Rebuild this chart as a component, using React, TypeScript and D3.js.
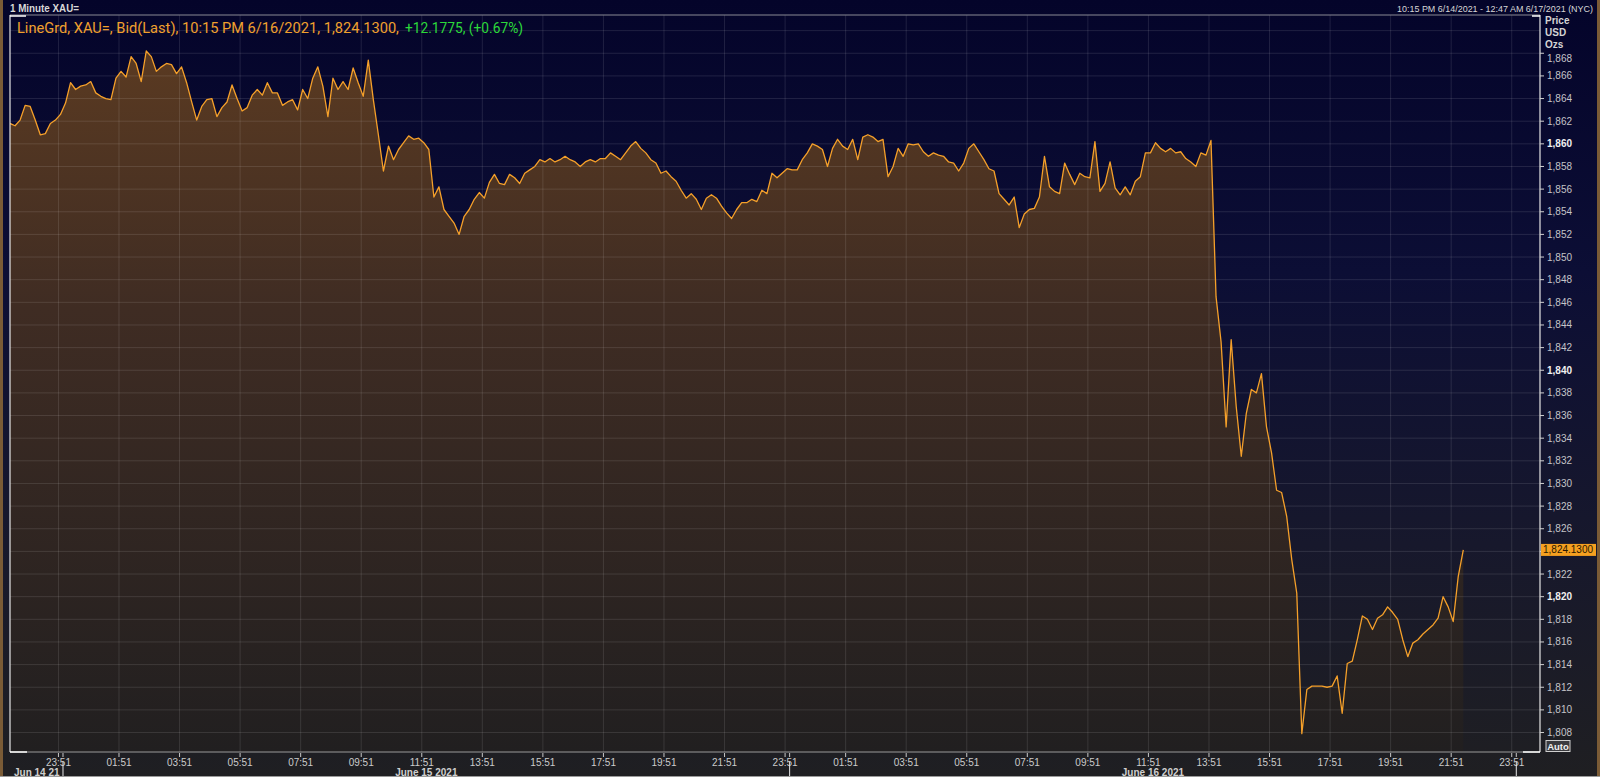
import React from "react";
import * as d3 from "d3";

const W = 1600;
const H = 777;

// Time window shown (NYC local)
const START = new Date(2021, 5, 14, 22, 15);
const END = new Date(2021, 5, 17, 0, 47);
const STEP_MINUTES = 10;

// XAU= bid, sampled every 10 minutes from 22:15 Jun 14 2021 to 22:15 Jun 16 2021
const prices: number[] = [
  1861.8, 1861.6, 1862.1, 1863.4, 1863.3, 1862.1, 1860.8, 1860.9, 1861.8, 1862.1,
  1862.6, 1863.6, 1865.4, 1864.8, 1865.1, 1865.2, 1865.5, 1864.5, 1864.2, 1864.0,
  1863.9, 1865.8, 1866.4, 1865.9, 1867.7, 1867.1, 1865.5, 1868.2, 1867.7, 1866.4,
  1866.8, 1867.1, 1867.0, 1866.2, 1866.8, 1865.4, 1863.7, 1862.1, 1863.3, 1863.9,
  1864.0, 1862.4, 1863.2, 1863.7, 1865.2, 1864.0, 1862.9, 1863.2, 1864.3, 1864.8,
  1864.3, 1865.4, 1864.5, 1864.5, 1863.4, 1863.7, 1863.9, 1863.0, 1864.8, 1864.0,
  1865.8, 1866.8, 1865.1, 1862.4, 1865.8, 1864.8, 1865.5, 1864.8, 1866.7, 1865.4,
  1864.2, 1867.4, 1863.9, 1860.8, 1857.6, 1859.8, 1858.6, 1859.5, 1860.1, 1860.7,
  1860.4, 1860.5, 1860.1, 1859.5, 1855.3, 1856.2, 1854.2, 1853.6, 1853.0, 1852.0,
  1853.6, 1854.2, 1855.1, 1855.7, 1855.2, 1856.6,
  1857.3, 1856.5, 1856.4, 1857.3, 1857.0, 1856.5, 1857.4, 1857.7, 1858.0, 1858.6,
  1858.4, 1858.7, 1858.4, 1858.6, 1858.9, 1858.6, 1858.4, 1858.0, 1858.4, 1858.6,
  1858.4, 1858.7, 1858.7, 1859.2, 1858.9, 1858.6, 1859.2, 1859.8, 1860.2, 1859.6,
  1859.2, 1858.6, 1858.3, 1857.4, 1857.6, 1857.1, 1856.7, 1855.9, 1855.2, 1855.6,
  1855.1, 1854.2, 1855.2, 1855.5, 1855.2, 1854.5, 1853.9, 1853.4, 1854.2, 1854.8,
  1854.8, 1855.1, 1854.9, 1855.9, 1855.6, 1857.4, 1857.0, 1857.4, 1857.8, 1857.7,
  1857.7, 1858.6, 1859.2, 1860.0, 1859.8, 1859.5, 1858.0, 1859.6, 1860.4, 1859.8,
  1859.5, 1860.4, 1858.6, 1860.6, 1860.8, 1860.6, 1860.2, 1860.4, 1857.1, 1858.0,
  1859.6, 1858.9, 1860.0, 1859.9, 1860.0, 1859.3, 1858.9, 1859.2, 1859.0, 1858.9,
  1858.4, 1858.3, 1857.6, 1858.3, 1859.6, 1860.0, 1859.3, 1858.6, 1857.8, 1857.6, 1855.6,
  1855.1, 1854.6, 1855.3, 1852.6, 1853.8, 1854.2, 1854.3, 1855.3, 1858.9, 1856.2,
  1855.8, 1855.6, 1858.3, 1857.3, 1856.4, 1857.4, 1857.1, 1857.0, 1860.2, 1855.8,
  1856.5, 1858.4, 1856.1, 1855.5, 1856.2, 1855.5, 1856.7, 1857.1, 1859.2, 1859.2,
  1860.1, 1859.6, 1859.3, 1859.6, 1859.2, 1859.3, 1858.7, 1858.4, 1858.0, 1859.2,
  1859.0, 1860.3,
  1846.5, 1842.5, 1835.0, 1842.7, 1836.8, 1832.4, 1836.2, 1838.3, 1838.0, 1839.7,
  1835.0, 1832.7, 1829.4, 1829.2, 1827.1, 1823.3, 1820.3, 1807.9, 1811.8, 1812.1,
  1812.1, 1812.1, 1812.0, 1812.1, 1813.0, 1809.7, 1814.1, 1814.3, 1816.2, 1818.3,
  1818.0, 1817.1, 1818.1, 1818.4, 1819.1, 1818.6, 1818.0, 1816.2, 1814.7, 1815.9,
  1816.2, 1816.7, 1817.1, 1817.5, 1818.1, 1820.0, 1819.1, 1817.8, 1821.8, 1824.13,
];

const LAST_PRICE_LABEL = "1,824.1300";
const headerLeft = "1 Minute XAU=";
const headerRange = "10:15 PM 6/14/2021 - 12:47 AM 6/17/2021 (NYC)";
const titleMain = "LineGrd, XAU=, Bid(Last), 10:15 PM 6/16/2021, 1,824.1300,";
const titleChange = "+12.1775, (+0.67%)";
const axisUnits = ["Price", "USD", "Ozs"];

const xTickFirst = new Date(2021, 5, 14, 23, 51);
const xTickLabels = [
  "23:51", "01:51", "03:51", "05:51", "07:51", "09:51", "11:51", "13:51", "15:51",
  "17:51", "19:51", "21:51", "23:51", "01:51", "03:51", "05:51", "07:51", "09:51",
  "11:51", "13:51", "15:51", "17:51", "19:51", "21:51", "23:51",
];
const dayLabels = ["Jun 14 21", "June 15 2021", "June 16 2021"];
const dayLabelDates = [START, new Date(2021, 5, 15, 12, 0), new Date(2021, 5, 16, 12, 0)];
const dayBoundaries = [new Date(2021, 5, 15), new Date(2021, 5, 16), new Date(2021, 5, 17)];

const yGridValues = d3.range(1808, 1871, 2);
const yTickValues = d3.range(1808, 1869, 2);

const PLOT = { left: 10, right: 1540, top: 15, bottom: 752 };

export default function App() {
  const x = d3.scaleTime().domain([START, END]).range([PLOT.left, PLOT.right]);
  const y = d3.scaleLinear().domain([1806.28, 1871.38]).range([PLOT.bottom, PLOT.top]);

  const data = prices.map((p, i) => ({ t: d3.timeMinute.offset(START, i * STEP_MINUTES), p }));
  const lineGen = d3.line<{ t: Date; p: number }>().x((d) => x(d.t)).y((d) => y(d.p));
  const areaGen = d3
    .area<{ t: Date; p: number }>()
    .x((d) => x(d.t))
    .y0(PLOT.bottom)
    .y1((d) => y(d.p));

  const xTicks = xTickLabels.map((label, k) => ({ label, t: d3.timeHour.offset(xTickFirst, 2 * k) }));
  const last = data[data.length - 1];
  const fmt = d3.format(",");
  const font = "'Liberation Sans', Arial, sans-serif";
  const gridStroke = "rgba(255,255,255,0.11)";
  const topTick = yTickValues[yTickValues.length - 1];

  return (
    <div style={{ position: "absolute", left: 0, top: 0 }}>
      <svg width={W} height={H} style={{ display: "block" }}>
        <defs>
          <linearGradient id="bg" x1="0" y1="0" x2="0" y2={H} gradientUnits="userSpaceOnUse">
            <stop offset="0" stopColor="#04042a" />
            <stop offset="0.35" stopColor="#0c0e35" />
            <stop offset="0.7" stopColor="#17182c" />
            <stop offset="1" stopColor="#1f1f22" />
          </linearGradient>
          <linearGradient id="fill" x1="0" y1={PLOT.top} x2="0" y2={PLOT.bottom} gradientUnits="userSpaceOnUse">
            <stop offset="0" stopColor="#5e3c21" />
            <stop offset="0.4" stopColor="#3f2c23" />
            <stop offset="1" stopColor="#211f20" />
          </linearGradient>
          <clipPath id="plotClip">
            <rect x={PLOT.left} y={PLOT.top} width={PLOT.right - PLOT.left} height={PLOT.bottom - PLOT.top} />
          </clipPath>
        </defs>

        <rect x={0} y={0} width={W} height={H} fill="url(#bg)" />

        <g clipPath="url(#plotClip)">
          <path d={areaGen(data) || ""} fill="url(#fill)" />
          {yGridValues.map((v) => (
            <line key={"hg" + v} x1={PLOT.left} x2={PLOT.right} y1={y(v)} y2={y(v)} stroke={gridStroke} />
          ))}
          {xTicks.map((tk, k) => (
            <line key={"vg" + k} x1={x(tk.t)} x2={x(tk.t)} y1={PLOT.top} y2={PLOT.bottom} stroke={gridStroke} />
          ))}
          <path d={lineGen(data) || ""} fill="none" stroke="#f5a02a" strokeWidth={1.3} strokeLinejoin="round" />
        </g>

        {/* plot frame */}
        <line x1={PLOT.left} x2={PLOT.right} y1={PLOT.top} y2={PLOT.top} stroke="#8a8a94" strokeWidth={1} />
        <line x1={PLOT.left} x2={PLOT.right} y1={PLOT.bottom} y2={PLOT.bottom} stroke="#9a9a9a" strokeWidth={1} />
        <line x1={PLOT.left} x2={PLOT.left} y1={PLOT.top} y2={PLOT.bottom} stroke="#e6e6e6" strokeWidth={1.2} />
        <line x1={PLOT.right} x2={PLOT.right} y1={PLOT.top} y2={PLOT.bottom} stroke="#e6e6e6" strokeWidth={1.2} />
        <path d={`M${PLOT.left},${PLOT.top + 1}H${PLOT.left + 16}`} stroke="#ffffff" strokeWidth={1.5} />
        <path d={`M${PLOT.left},${PLOT.bottom}H${PLOT.left + 17}`} stroke="#ffffff" strokeWidth={1.5} />
        <path d={`M${PLOT.right - 17},${PLOT.bottom}H${PLOT.right}`} stroke="#ffffff" strokeWidth={1.5} />
        <path d={`M${PLOT.right - 8},${PLOT.top + 1}H${PLOT.right}`} stroke="#ffffff" strokeWidth={1.5} />

        {/* header */}
        <text x={10} y={11.5} fontFamily={font} fontSize={10} fontWeight="bold" fill="#d8d8d8" textLength={69} lengthAdjust="spacingAndGlyphs">
          {headerLeft}
        </text>
        <text x={1593} y={11.5} textAnchor="end" fontFamily={font} fontSize={9} fill="#d6d6d6" textLength={196} lengthAdjust="spacingAndGlyphs">
          {headerRange}
        </text>
        <text x={17} y={33} fontFamily="Roboto, sans-serif" fontSize={15} fill="#f0a02e" textLength={382} lengthAdjust="spacingAndGlyphs">
          {titleMain}
        </text>
        <text x={405} y={33} fontFamily="Roboto, sans-serif" fontSize={15} fill="#2bd93a" textLength={118} lengthAdjust="spacingAndGlyphs">
          {titleChange}
        </text>

        {/* y axis */}
        {axisUnits.map((u, k) => (
          <text key={u} x={1545} y={24 + k * 12} fontFamily={font} fontSize={10} fontWeight="bold" fill="#d4d4d4">
            {u}
          </text>
        ))}
        {yTickValues.map((v) => {
          const major = v % 20 === 0;
          const hidden = Math.abs(y(v) - y(last.p)) < 8;
          const shift = v === topTick ? 5 : 0;
          return (
            <g key={"yt" + v} transform={`translate(0,${y(v)})`}>
              <line x1={PLOT.right} x2={PLOT.right + 4} stroke="#d0d0d0" />
              {!hidden && (
                <text x={1547} y={shift} dy="0.35em" fontFamily={font} fontSize={10} fontWeight={major ? "bold" : "normal"} fill={major ? "#f0f0f0" : "#c4c4c8"}>
                  {fmt(v)}
                </text>
              )}
            </g>
          );
        })}
        <g transform={`translate(0,${y(last.p)})`}>
          <rect x={PLOT.right + 1} y={-6} width={55} height={12} fill="#f5a020" />
          <text x={1543} dy="0.35em" fontFamily={font} fontSize={10} fill="#2a1800">
            {LAST_PRICE_LABEL}
          </text>
        </g>
        <rect x={1546} y={740.5} width={24} height={11} fill="#3a3a3e" stroke="#cfcfcf" strokeWidth={1} />
        <text x={1558} y={749.5} textAnchor="middle" fontFamily={font} fontSize={9.5} fontWeight="bold" fill="#f0f0f0">
          Auto
        </text>

        {/* x axis */}
        {xTicks.map((tk, k) => (
          <g key={"xt" + k} transform={`translate(${x(tk.t)},0)`}>
            <line y1={PLOT.bottom + 1} y2={PLOT.bottom + 5} stroke="#c8c8c8" />
            <text y={766} textAnchor="middle" fontFamily={font} fontSize={10} fill="#cbcbcb">
              {tk.label}
            </text>
          </g>
        ))}
        {dayBoundaries.map((d, k) => (
          <g key={"db" + k}>
            <line x1={x(d)} x2={x(d)} y1={PLOT.bottom + 1} y2={PLOT.bottom + 5} stroke="#c8c8c8" />
            <line x1={x(d)} x2={x(d)} y1={762} y2={777} stroke="#e8e8e8" />
          </g>
        ))}
        {dayLabels.map((lab, k) => (
          <text
            key={lab}
            x={k === 0 ? 14 : x(dayLabelDates[k])}
            y={776}
            textAnchor={k === 0 ? "start" : "middle"}
            fontFamily={font}
            fontSize={10}
            fontWeight="bold"
            fill="#cfcfcf"
          >
            {lab}
          </text>
        ))}

        {/* outer frame */}
        <rect x={0} y={0} width={3} height={H} fill="#7a5b36" />
        <rect x={1597} y={0} width={3} height={H} fill="#7a5b36" />
        <line x1={0} x2={W} y1={776.5} y2={776.5} stroke="#9a9a9a" />
      </svg>
    </div>
  );
}
